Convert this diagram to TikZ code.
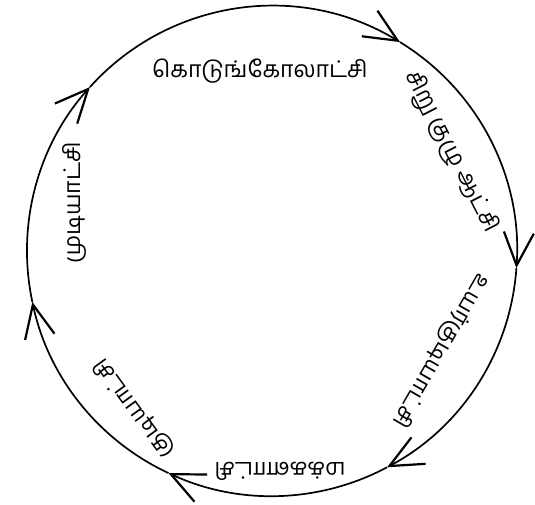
\documentclass[tikz,border=0pt]{standalone}
\usepackage{fontspec}
\newfontfamily\tamilfont[Script=Tamil]{Hind Madurai}
\usetikzlibrary{arrows.meta,calc}

\begin{document}
\begin{tikzpicture}[x=1pt,y=1pt,>={Straight Barb[length=33pt,width=30pt,line width=2.2pt]},
  lbl/.style={font=\tamilfont\fontsize{23}{26}\selectfont,inner sep=0pt}]
  \useasboundingbox (0,0) rectangle (535,505);
  \coordinate (c) at (272,254);
  % labels round the cycle
  \node[lbl] (kodun) at (260,434) {கொடுங்கோலாட்சி};
  \node[lbl,rotate=-63] (siru) at (451,353) {சிறு குழு ஆட்சி};
  \node[lbl,rotate=-120] (uyar) at (441,155) {உயர்குடியாட்சி};
  \node[lbl,rotate=180] (makkal) at (280,34) {மக்களாட்சி};
  \node[lbl,rotate=126] (kudi) at (134,97) {குடியாட்சி};
  \node[lbl,rotate=90] (mudi) at (74,302) {முடியாட்சி};
  % arcs, clockwise
  \foreach \a/\b in {138/58.5,58.5/-4,-4/-62,-62/-115,-115/-168,-168/-222}
    \draw[->,line width=1.7pt] ($(c)+(\a:245)$) arc[start angle=\a,end angle=\b,radius=245];
\end{tikzpicture}
\end{document}
